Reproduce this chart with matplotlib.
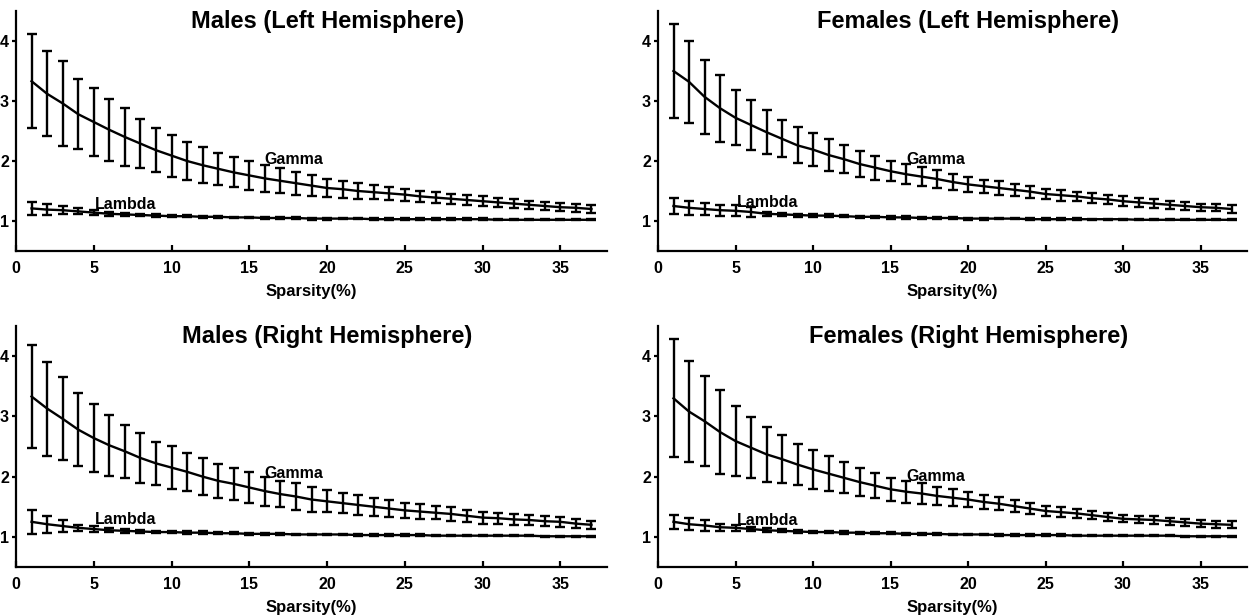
import matplotlib
matplotlib.use("Agg")
import matplotlib.pyplot as plt

plt.rcParams['font.family'] = ['Liberation Sans', 'DejaVu Sans']
plt.rcParams['font.weight'] = 'bold'

sparsity = list(range(1, 38))
x_ticks = [0, 5, 10, 15, 20, 25, 30, 35]
y_ticks = [1, 2, 3, 4]
titles = ["Males (Left Hemisphere)", "Females (Left Hemisphere)",
          "Males (Right Hemisphere)", "Females (Right Hemisphere)"]
x_label = "Sparsity(%)"

# ---- Males, left hemisphere ----
ml_gamma_mean = [3.33, 3.12, 2.96, 2.78, 2.65, 2.52, 2.40, 2.29, 2.18, 2.09,
                 2.00, 1.93, 1.87, 1.81, 1.76, 1.71, 1.67, 1.63, 1.59, 1.55,
                 1.53, 1.50, 1.48, 1.46, 1.44, 1.41, 1.39, 1.37, 1.35, 1.33,
                 1.31, 1.29, 1.27, 1.25, 1.23, 1.22, 1.20]
ml_gamma_sd = [0.78, 0.71, 0.71, 0.58, 0.56, 0.52, 0.49, 0.41, 0.37, 0.35,
               0.32, 0.30, 0.27, 0.25, 0.24, 0.22, 0.21, 0.19, 0.17, 0.15,
               0.14, 0.13, 0.12, 0.11, 0.10, 0.09, 0.09, 0.08, 0.08, 0.08,
               0.08, 0.07, 0.07, 0.07, 0.07, 0.07, 0.07]
ml_lambda_mean = [1.21, 1.19, 1.18, 1.16, 1.14, 1.12, 1.11, 1.10, 1.09, 1.08,
                  1.08, 1.07, 1.07, 1.06, 1.06, 1.05, 1.05, 1.05, 1.04, 1.04,
                  1.04, 1.04, 1.03, 1.03, 1.03, 1.03, 1.03, 1.03, 1.03, 1.03,
                  1.02, 1.02, 1.02, 1.02, 1.02, 1.02, 1.02]
ml_lambda_sd = [0.11, 0.09, 0.07, 0.05, 0.04, 0.03, 0.025, 0.02, 0.02, 0.02,
                0.02, 0.02, 0.015, 0.015, 0.015, 0.015, 0.015, 0.015, 0.015, 0.015,
                0.012, 0.012, 0.012, 0.012, 0.012, 0.012, 0.012, 0.012, 0.012, 0.012,
                0.01, 0.01, 0.01, 0.01, 0.01, 0.01, 0.01]

# ---- Females, left hemisphere ----
fl_gamma_mean = [3.50, 3.32, 3.07, 2.88, 2.72, 2.60, 2.48, 2.37, 2.26, 2.19,
                 2.10, 2.03, 1.95, 1.89, 1.83, 1.78, 1.74, 1.70, 1.65, 1.61,
                 1.58, 1.55, 1.52, 1.49, 1.45, 1.43, 1.41, 1.38, 1.36, 1.33,
                 1.31, 1.29, 1.27, 1.25, 1.23, 1.22, 1.20]
fl_gamma_sd = [0.79, 0.68, 0.62, 0.56, 0.46, 0.41, 0.37, 0.31, 0.30, 0.28,
               0.27, 0.23, 0.22, 0.20, 0.17, 0.17, 0.16, 0.15, 0.13, 0.12,
               0.11, 0.11, 0.10, 0.10, 0.09, 0.09, 0.08, 0.08, 0.08, 0.08,
               0.07, 0.07, 0.07, 0.07, 0.06, 0.06, 0.06]
fl_lambda_mean = [1.25, 1.22, 1.20, 1.18, 1.17, 1.15, 1.12, 1.11, 1.10, 1.09,
                  1.09, 1.08, 1.07, 1.07, 1.06, 1.06, 1.05, 1.05, 1.05, 1.04,
                  1.04, 1.04, 1.04, 1.03, 1.03, 1.03, 1.03, 1.03, 1.03, 1.03,
                  1.02, 1.02, 1.02, 1.02, 1.02, 1.02, 1.02]
fl_lambda_sd = [0.13, 0.12, 0.10, 0.09, 0.09, 0.08, 0.03, 0.03, 0.025, 0.025,
                0.025, 0.02, 0.02, 0.02, 0.02, 0.02, 0.015, 0.015, 0.015, 0.015,
                0.015, 0.012, 0.012, 0.012, 0.012, 0.012, 0.012, 0.01, 0.01, 0.01,
                0.01, 0.01, 0.01, 0.01, 0.01, 0.01, 0.01]

# ---- Males, right hemisphere ----
mr_gamma_mean = [3.33, 3.13, 2.96, 2.78, 2.64, 2.52, 2.42, 2.31, 2.22, 2.15,
                 2.08, 2.00, 1.93, 1.88, 1.82, 1.76, 1.71, 1.67, 1.62, 1.59,
                 1.56, 1.53, 1.50, 1.47, 1.44, 1.42, 1.40, 1.38, 1.35, 1.32,
                 1.31, 1.29, 1.28, 1.26, 1.25, 1.22, 1.20]
mr_gamma_sd = [0.85, 0.78, 0.69, 0.61, 0.57, 0.51, 0.44, 0.41, 0.36, 0.36,
               0.32, 0.31, 0.28, 0.26, 0.25, 0.24, 0.22, 0.22, 0.20, 0.18,
               0.17, 0.16, 0.15, 0.14, 0.12, 0.12, 0.11, 0.11, 0.10, 0.10,
               0.09, 0.09, 0.08, 0.08, 0.08, 0.07, 0.07]
mr_lambda_mean = [1.25, 1.21, 1.18, 1.15, 1.13, 1.11, 1.10, 1.09, 1.08, 1.08,
                  1.07, 1.07, 1.06, 1.06, 1.05, 1.05, 1.05, 1.04, 1.04, 1.04,
                  1.04, 1.03, 1.03, 1.03, 1.03, 1.03, 1.02, 1.02, 1.02, 1.02,
                  1.02, 1.02, 1.02, 1.01, 1.01, 1.01, 1.01]
mr_lambda_sd = [0.20, 0.14, 0.10, 0.05, 0.05, 0.03, 0.03, 0.025, 0.02, 0.02,
                0.02, 0.02, 0.015, 0.015, 0.015, 0.015, 0.015, 0.015, 0.015, 0.015,
                0.012, 0.012, 0.012, 0.012, 0.012, 0.012, 0.012, 0.01, 0.01, 0.01,
                0.01, 0.01, 0.01, 0.01, 0.01, 0.01, 0.01]

# ---- Females, right hemisphere ----
fr_gamma_mean = [3.30, 3.08, 2.92, 2.74, 2.59, 2.48, 2.37, 2.29, 2.20, 2.12,
                 2.05, 1.98, 1.91, 1.85, 1.79, 1.75, 1.72, 1.68, 1.65, 1.62,
                 1.58, 1.55, 1.51, 1.47, 1.43, 1.41, 1.39, 1.36, 1.33, 1.30,
                 1.29, 1.28, 1.26, 1.24, 1.22, 1.21, 1.20]
fr_gamma_sd = [0.98, 0.84, 0.75, 0.69, 0.58, 0.51, 0.46, 0.40, 0.34, 0.32,
               0.29, 0.26, 0.23, 0.21, 0.19, 0.18, 0.17, 0.15, 0.14, 0.13,
               0.12, 0.11, 0.10, 0.09, 0.08, 0.08, 0.07, 0.07, 0.06, 0.06,
               0.06, 0.06, 0.06, 0.06, 0.06, 0.06, 0.06]
fr_lambda_mean = [1.25, 1.21, 1.19, 1.16, 1.15, 1.13, 1.11, 1.10, 1.09, 1.08,
                  1.08, 1.07, 1.07, 1.06, 1.06, 1.05, 1.05, 1.05, 1.04, 1.04,
                  1.04, 1.03, 1.03, 1.03, 1.03, 1.03, 1.02, 1.02, 1.02, 1.02,
                  1.02, 1.02, 1.02, 1.01, 1.01, 1.01, 1.01]
fr_lambda_sd = [0.12, 0.10, 0.09, 0.06, 0.05, 0.04, 0.03, 0.025, 0.02, 0.02,
                0.02, 0.02, 0.015, 0.015, 0.015, 0.015, 0.015, 0.015, 0.015, 0.015,
                0.012, 0.012, 0.012, 0.012, 0.012, 0.012, 0.012, 0.01, 0.01, 0.01,
                0.01, 0.01, 0.01, 0.01, 0.01, 0.01, 0.01]

# label anchor positions (data coordinates): (x, y) for Gamma and Lambda
gamma_label_pos = [(16.0, 2.02), (16.0, 2.03), (16.0, 2.06), (16.0, 2.01)]
lambda_label_pos = [(5.1, 1.27), (5.1, 1.31), (5.1, 1.29), (5.1, 1.28)]

panels = [
    (ml_gamma_mean, ml_gamma_sd, ml_lambda_mean, ml_lambda_sd),
    (fl_gamma_mean, fl_gamma_sd, fl_lambda_mean, fl_lambda_sd),
    (mr_gamma_mean, mr_gamma_sd, mr_lambda_mean, mr_lambda_sd),
    (fr_gamma_mean, fr_gamma_sd, fr_lambda_mean, fr_lambda_sd),
]

W, H = 1249, 615
fig = plt.figure(figsize=(W / 100, H / 100), dpi=100)

# axes rectangles in pixels: (left, top, right, bottom)
rects_px = [(16, 11, 607, 251), (658, 11, 1247, 251),
            (16, 326, 607, 567), (658, 326, 1247, 567)]

for i, (gm, gs, lm, ls) in enumerate(panels):
    l, t, r, b = rects_px[i]
    ax = fig.add_axes([l / W, 1 - b / H, (r - l) / W, (b - t) / H])
    ekw = dict(color='black', lw=1.7, elinewidth=1.7, capsize=3.7, capthick=1.7)
    ax.errorbar(sparsity, gm, yerr=gs, **ekw)
    ax.errorbar(sparsity, lm, yerr=ls, **ekw)
    ax.set_xlim(0, 38)
    ax.set_ylim(0.5, 4.5)
    ax.set_xticks(x_ticks)
    ax.set_yticks(y_ticks)
    for s in ['top', 'right']:
        ax.spines[s].set_visible(False)
    for s in ['left', 'bottom']:
        ax.spines[s].set_linewidth(1.6)
    ax.tick_params(axis='x', direction='in', length=4, width=1.6, pad=7, labelsize=11.5)
    ax.tick_params(axis='y', direction='out', length=3, width=1.6, pad=2, labelsize=11.5)
    for lab in ax.get_xticklabels() + ax.get_yticklabels():
        lab.set_fontweight('bold')
    ax.set_xlabel(x_label, fontsize=12, fontweight='bold', labelpad=6)
    ax.text(0.527, 0.955, titles[i], transform=ax.transAxes, ha='center', va='center',
            fontsize=17, fontweight='bold')
    gx, gy = gamma_label_pos[i]
    ax.text(gx, gy, "Gamma", ha='left', va='center', fontsize=11.5, fontweight='bold')
    lx, ly = lambda_label_pos[i]
    ax.text(lx, ly, "Lambda", ha='left', va='center', fontsize=11.5, fontweight='bold')

fig.savefig("out.png", dpi=100)
